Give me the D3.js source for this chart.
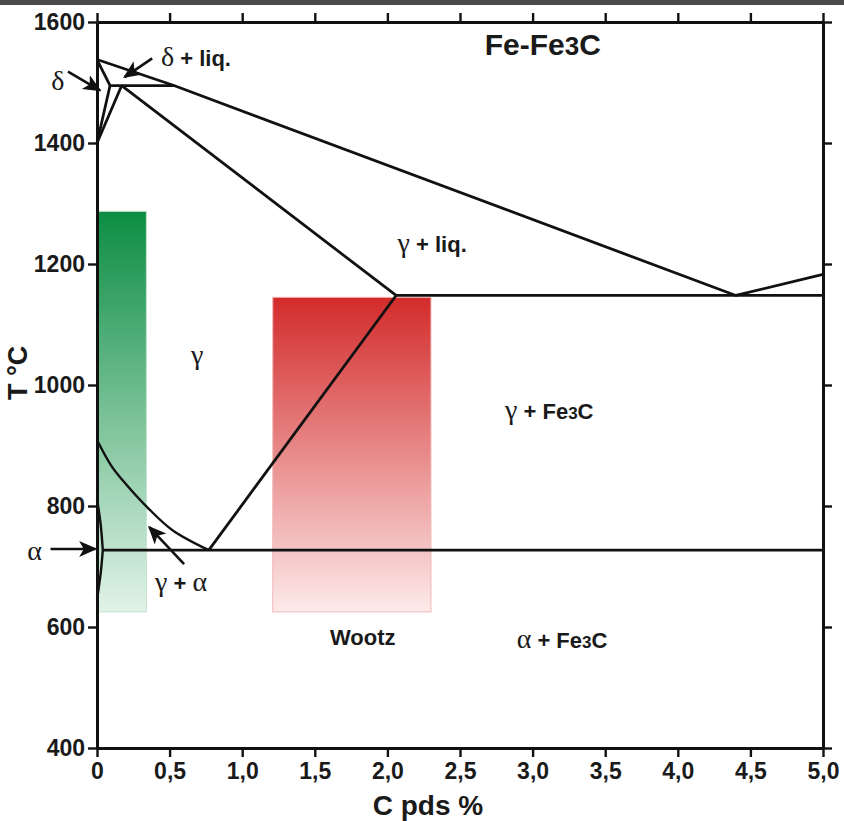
<!DOCTYPE html>
<html>
<head>
<meta charset="utf-8">
<script src="https://cdn.jsdelivr.net/npm/d3@7"></script>
<style>
  body { margin: 0; background: #fff; }
  svg { display: block; }
  .tick-label { font-family: "Liberation Sans Narrow", "Arial Narrow", "Liberation Sans", Arial, sans-serif; font-weight: bold; fill: #1a1a1a; }
  .lab { font-family: "Liberation Sans", Arial, sans-serif; font-weight: bold; fill: #1a1a1a; }
  .greek { font-family: "Liberation Serif", "Times New Roman", serif; font-weight: normal; }
</style>
</head>
<body>
<svg id="chart" width="844" height="821"></svg>
<script>
// axis ticks
const xTicks = [0, 0.5, 1.0, 1.5, 2.0, 2.5, 3.0, 3.5, 4.0, 4.5, 5.0];
const yTicks = [400, 600, 800, 1000, 1200, 1400, 1600];

// phase boundaries, [C pds %, T °C]
const liquidus = [[0, 1538], [0.53, 1495], [4.4, 1148], [5.0, 1183]];
const deltaSolidus = [[0, 1538], [0.09, 1495]];
const deltaSolvus = [[0, 1400], [0.09, 1495]];
const gammaDelta = [[0, 1400], [0.17, 1495]];
const peritectic = [[0.09, 1495], [0.53, 1495]];
const gammaSolidus = [[0.17, 1495], [2.06, 1148]];
const eutectic = [[2.06, 1148], [5.0, 1148]];
const acm = [[0.77, 727], [2.06, 1148]];
const a3 = [[0, 909], [0.1, 866], [0.2, 836], [0.35, 797], [0.52, 760], [0.77, 727]];
const eutectoid = [[0.04, 727], [5.0, 727]];
const alphaUpper = [[0, 812], [0.025, 770], [0.04, 727]];
const alphaLower = [[0.04, 727], [0.025, 688], [0, 645]];

// shaded ranges: carbon from/to, temperature from/to
const steelRange = [0, 0.34, 625, 1287];
const wootzRange = [1.2, 2.3, 625, 1145];

// arrows: from -> to
const arrows = [
  [[-0.2, 1518], [0.02, 1487]],
  [[0.38, 1540], [0.19, 1509]],
  [[-0.32, 729], [-0.01, 729]],
  [[0.6, 704], [0.36, 765]]
];

const svg = d3.select('#chart');
const margin = { top: 22, right: 21, bottom: 73, left: 97 };
const width = 844 - margin.left - margin.right;
const height = 821 - margin.top - margin.bottom;

// dark strip along the top
svg.append('rect')
  .attr('x', 0).attr('y', 0)
  .attr('width', 844).attr('height', 5)
  .attr('fill', '#4a4a4a');

const g = svg.append('g')
  .attr('transform', `translate(${margin.left},${margin.top})`);

const x = d3.scaleLinear().domain([0, 5]).range([0, width]);
const y = d3.scaleLinear().domain([400, 1600]).range([height, 0]);

// gradients
const defs = svg.append('defs');
function gradient(id, top, bottom) {
  const lg = defs.append('linearGradient')
    .attr('id', id)
    .attr('x1', 0).attr('y1', 0).attr('x2', 0).attr('y2', 1);
  lg.append('stop').attr('offset', 0).attr('stop-color', top);
  lg.append('stop').attr('offset', 1).attr('stop-color', bottom);
}
gradient('gGreen', '#0c8d43', '#e2f3e8');
gradient('gRed', '#d32b2b', '#fdeaea');

defs.append('marker')
  .attr('id', 'head')
  .attr('viewBox', '0 0 10 10')
  .attr('refX', 9).attr('refY', 5)
  .attr('markerWidth', 7).attr('markerHeight', 7)
  .attr('markerUnits', 'strokeWidth')
  .attr('orient', 'auto')
  .append('path')
  .attr('d', 'M0,0.6 L10,5 L0,9.4 L2.5,5 Z')
  .attr('fill', '#111');

function band(r, fillId, stroke) {
  g.append('rect')
    .attr('x', x(r[0]) + 1.5)
    .attr('y', y(r[3]))
    .attr('width', x(r[1]) - x(r[0]) - 1.5)
    .attr('height', y(r[2]) - y(r[3]))
    .attr('fill', `url(#${fillId})`)
    .attr('stroke', stroke)
    .attr('stroke-width', 1);
}
band(steelRange, 'gGreen', '#bfe3cc');
band(wootzRange, 'gRed', '#f2b8b8');

// phase lines
const line = d3.line().x(d => x(d[0])).y(d => y(d[1]));
const curve = d3.line().x(d => x(d[0])).y(d => y(d[1])).curve(d3.curveCatmullRom);

[liquidus, deltaSolidus, deltaSolvus, gammaDelta, peritectic,
 gammaSolidus, eutectic, acm, eutectoid].forEach(seg => {
  g.append('path')
    .datum(seg)
    .attr('d', line)
    .attr('fill', 'none')
    .attr('stroke', '#111')
    .attr('stroke-width', 2.8)
    .attr('stroke-linejoin', 'round');
});

[a3, alphaUpper, alphaLower].forEach(seg => {
  g.append('path')
    .datum(seg)
    .attr('d', curve)
    .attr('fill', 'none')
    .attr('stroke', '#111')
    .attr('stroke-width', 2.4);
});

// arrows
arrows.forEach(a => {
  g.append('line')
    .attr('x1', x(a[0][0])).attr('y1', y(a[0][1]))
    .attr('x2', x(a[1][0])).attr('y2', y(a[1][1]))
    .attr('stroke', '#111')
    .attr('stroke-width', 2.6)
    .attr('marker-end', 'url(#head)');
});

// axes
const fmt = d => d === 0 ? '0' : d.toFixed(1).replace('.', ',');

const xAxis = g.append('g')
  .attr('transform', `translate(0,${height})`)
  .call(d3.axisBottom(x).tickValues(xTicks).tickFormat(fmt).tickSize(9).tickPadding(6).tickSizeOuter(0));
const xTop = g.append('g')
  .call(d3.axisTop(x).tickValues(xTicks).tickFormat('').tickSize(9).tickSizeOuter(0));
const yAxis = g.append('g')
  .call(d3.axisLeft(y).tickValues(yTicks).tickFormat(d3.format('d')).tickSize(9).tickPadding(3).tickSizeOuter(0));
const yRight = g.append('g')
  .attr('transform', `translate(${width},0)`)
  .call(d3.axisRight(y).tickValues(yTicks).tickFormat('').tickSize(9).tickSizeOuter(0));

[xAxis, xTop, yAxis, yRight].forEach(ax => {
  ax.select('.domain').attr('stroke', '#111').attr('stroke-width', 3);
  ax.selectAll('.tick line').attr('stroke', '#111').attr('stroke-width', 2.4);
});
xAxis.selectAll('.tick text')
  .attr('class', 'tick-label')
  .style('font-size', '23px');
yAxis.selectAll('.tick text')
  .attr('class', 'tick-label')
  .style('font-size', '23px');

// axis titles
svg.append('text')
  .attr('class', 'lab')
  .attr('x', 428)
  .attr('y', 815)
  .attr('text-anchor', 'middle')
  .style('font-size', '28px')
  .text('C pds %');

svg.append('text')
  .attr('class', 'lab')
  .attr('transform', `translate(27,${margin.top + y(1020)}) rotate(-90)`)
  .attr('text-anchor', 'middle')
  .style('font-size', '27px')
  .text('T °C');

// region labels
function label(cx, ty, parts, anchor) {
  const t = g.append('text')
    .attr('x', x(cx)).attr('y', y(ty))
    .attr('text-anchor', anchor || 'start')
    .attr('class', 'lab');
  parts.forEach(p => {
    const s = t.append('tspan').text(p[0]);
    if (p[1] === 'greek') s.attr('class', 'greek').style('font-size', '28px');
    else if (p[1] === 'sub') s.style('font-size', '17px');
    else s.style('font-size', '22px');
  });
  return t;
}

label(0.44, 1527, [['δ', 'greek'], [' + liq.']]);
label(-0.27, 1488, [['δ', 'greek']], 'middle');
label(2.07, 1220, [['γ', 'greek'], [' + liq.']]);
label(0.69, 1035, [['γ', 'greek']], 'middle');
label(2.81, 943, [['γ', 'greek'], [' + Fe'], ['3', 'sub'], ['C']]);
label(-0.43, 711, [['α', 'greek']], 'middle');
label(0.4, 660, [['γ', 'greek'], [' + '], ['α', 'greek']]);
label(1.83, 570, [['Wootz']], 'middle');
label(2.89, 566, [['α', 'greek'], [' + Fe'], ['3', 'sub'], ['C']]);

const title = g.append('text')
  .attr('class', 'lab')
  .attr('x', x(2.67)).attr('y', y(1545))
  .style('font-size', '30px');
title.append('tspan').text('Fe-Fe');
title.append('tspan').text('3').style('font-size', '26px');
title.append('tspan').text('C');
</script>
</body>
</html>
